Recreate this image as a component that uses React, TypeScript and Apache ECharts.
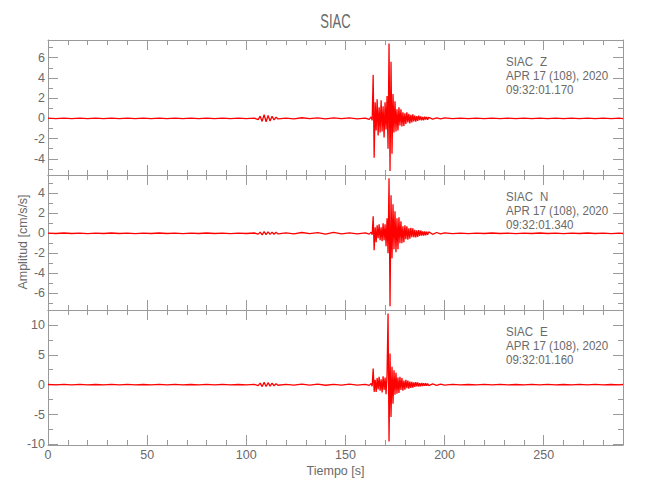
import React, { useEffect, useRef } from "react";
import * as echarts from "echarts";

// Sample times [s]
const TIME = [
  0, 4, 8, 12, 16, 20, 24, 28, 32, 36, 40, 44, 48, 52, 56, 60, 64, 68, 72, 76, 80, 84, 88, 92, 96, 100, 104,
  106, 107, 108, 109, 110, 111, 112, 113, 114, 115, 116,
  120, 124, 128, 132, 136, 140, 144, 148, 152, 156, 160,
  162, 163, 163.5,
  164, 164.5, 165, 165.5, 166, 166.5, 167, 167.5, 168, 168.5,
  169, 169.5, 170, 170.5, 171, 171.5, 172, 172.5, 173, 173.5,
  174, 174.5, 175, 175.5, 176, 176.5, 177, 177.5, 178, 178.5,
  179, 179.5, 180, 180.5, 181, 181.5, 182, 182.5, 183, 183.5,
  184, 184.5, 185, 185.5, 186, 186.5, 187, 187.5, 188, 188.5,
  189, 189.5, 190, 190.5, 191, 191.5, 192,
  194, 196, 198, 200,
  204, 208, 212, 216, 220, 224, 228, 232, 236, 240, 244, 248, 252, 256, 260, 264, 268, 272, 276, 280, 284, 288,
  290,
];

// Channel Z amplitudes [cm/s/s]
const AMP_Z = [
  0.02, -0.02, 0.03, -0.02, 0.02, -0.03, 0.02, -0.02, 0.03, -0.02, 0.02, -0.03, 0.02, -0.02, 0.03, -0.02, 0.02, -0.03, 0.02, -0.02, 0.03, -0.02, 0.02, -0.03, 0.02, -0.02, 0.03,
  -0.12, 0.22, -0.3, 0.36, -0.33, 0.28, -0.26, 0.2, -0.16, 0.12, -0.06,
  0.03, -0.04, 0.06, -0.03, 0.05, -0.06, 0.04, -0.03, 0.05, -0.04, 0.03,
  -0.1, 0.15, -0.2,
  4.3, -3.9, 1.6, -1.2, 1.9, -1.7, 1.1, -1.4, 1.8, -1.3,
  1.2, -1.9, 1.6, -1.1, 2.2, -3.0, 7.4, -5.2, 5.6, -3.5,
  2.4, -1.4, 1.7, -1.3, 0.9, -1.2, 1.1, -0.7, 0.9, -0.8,
  0.6, -0.75, 0.5, -0.55, 0.6, -0.4, 0.45, -0.5, 0.35, -0.4,
  0.4, -0.3, 0.28, -0.33, 0.22, -0.25, 0.26, -0.18, 0.2, -0.2,
  0.15, -0.18, 0.16, -0.12, 0.14, -0.13, 0.1,
  -0.07, 0.06, -0.05, 0.04,
  -0.03, 0.02, -0.03, 0.02, -0.02, 0.03, -0.02, 0.02, -0.03, 0.02, -0.02, 0.03, -0.02, 0.02, -0.03, 0.02, -0.02, 0.03, -0.02, 0.02, -0.03, 0.02,
  -0.02,
];

// Channel N amplitudes [cm/s/s]
const AMP_N = [
  0.02, -0.02, 0.03, -0.02, 0.02, -0.03, 0.02, -0.02, 0.03, -0.02, 0.02, -0.03, 0.02, -0.02, 0.03, -0.02, 0.02, -0.03, 0.02, -0.02, 0.03, -0.02, 0.02, -0.03, 0.02, -0.02, 0.03,
  -0.08, 0.12, -0.15, 0.16, -0.14, 0.15, -0.11, 0.12, -0.09, 0.1, -0.06,
  0.04, -0.06, 0.08, -0.04, 0.06, -0.08, 0.1, -0.06, 0.04, -0.06, 0.04,
  -0.08, 0.12, -0.15,
  1.7, -1.7, 0.6, -0.9, 0.8, -0.5, 0.9, -0.7, 0.6, -0.8,
  1.0, -0.7, 0.9, -1.3, 1.5, -2.0, 5.5, -7.3, 3.8, -2.5,
  2.9, -1.6, 2.2, -1.9, 1.5, -1.6, 1.6, -1.0, 1.2, -1.0,
  0.7, -0.9, 0.8, -0.6, 0.7, -0.65, 0.5, -0.55, 0.55, -0.4,
  0.5, -0.4, 0.35, -0.4, 0.3, -0.35, 0.32, -0.25, 0.28, -0.22,
  0.2, -0.22, 0.18, -0.2, 0.15, -0.16, 0.14,
  -0.1, 0.08, -0.06, 0.05,
  -0.03, 0.02, -0.03, 0.02, -0.02, 0.03, -0.02, 0.02, -0.03, 0.02, -0.02, 0.03, -0.02, 0.02, -0.03, 0.02, -0.02, 0.03, -0.02, 0.02, -0.03, 0.02,
  -0.02,
];

// Channel E amplitudes [cm/s/s]
const AMP_E = [
  0.03, -0.04, 0.04, -0.03, 0.04, -0.04, 0.03, -0.04, 0.04, -0.03, 0.04, -0.04, 0.03, -0.04, 0.04, -0.03, 0.04, -0.04, 0.03, -0.04, 0.04, -0.03, 0.04, -0.04, 0.03, -0.04, 0.04,
  -0.15, 0.25, -0.32, 0.38, -0.3, 0.33, -0.24, 0.26, -0.18, 0.16, -0.1,
  0.06, -0.08, 0.1, -0.06, 0.08, -0.1, 0.06, -0.06, 0.08, -0.06, 0.06,
  -0.12, 0.2, -0.25,
  2.7, -1.2, 0.8, -1.2, 1.1, -0.8, 1.3, -1.0, 0.9, -1.3,
  1.4, -0.9, 1.2, -1.6, 1.8, 11.9, -9.5, 5.2, -5.4, 3.0,
  -3.2, 2.4, -1.7, 2.0, -1.5, 1.2, -1.4, 1.3, -0.9, 1.1,
  -1.0, 0.7, -0.85, 0.8, -0.6, 0.7, -0.65, 0.5, -0.55, 0.45,
  -0.5, 0.4, -0.35, 0.42, -0.3, 0.36, -0.32, 0.25, -0.28, 0.3,
  -0.22, 0.25, -0.2, 0.22, -0.17, 0.2, -0.15,
  0.12, -0.1, 0.08, -0.06,
  0.04, -0.04, 0.03, -0.04, 0.04, -0.03, 0.04, -0.04, 0.03, -0.04, 0.04, -0.03, 0.04, -0.04, 0.03, -0.04, 0.04, -0.03, 0.04, -0.04, 0.03, -0.04,
  0.03,
];

const STATION = "SIAC";
const CHANNELS = ["Z", "N", "E"];
const DATE_LABEL = "APR 17 (108), 2020";
const START_TIMES = ["09:32:01.170", "09:32:01.340", "09:32:01.160"];
const Y_MIN = [-5.6, -7.67, -10.1];
const Y_MAX = [7.75, 5.83, 12.5];
const Y_SPLIT = [7, 7, 5];
const X_MIN = 0;
const X_MAX = 290;
const X_INTERVAL = 50;
const X_NAME = "Tiempo [s]";
const Y_NAME = "Amplitud [cm/s/s]";

const FONT = "'Liberation Sans', Arial, sans-serif";
const AXIS_COLOR = "#9a9a9a";
const TEXT_COLOR = "#6a6a6a";
const LINE_COLOR = "#ff0000";

const GRID_LEFT = 48;
const GRID_RIGHT = 27;
const GRID_TOPS = [40, 175, 310];
const GRID_H = 135;

export default function App() {
  const ref = useRef<HTMLDivElement>(null);

  useEffect(() => {
    if (!ref.current) return;
    const chart = echarts.init(ref.current, undefined, { renderer: "svg" });

    const series = [AMP_Z, AMP_N, AMP_E];

    const grid = GRID_TOPS.map((top) => ({
      left: GRID_LEFT,
      right: GRID_RIGHT,
      top,
      height: GRID_H,
      containLabel: false,
    }));

    const tickCommon = {
      axisLine: { show: true, onZero: false, lineStyle: { color: AXIS_COLOR, width: 1 } },
      axisTick: { show: true, inside: true, length: 10, lineStyle: { color: AXIS_COLOR } },
      splitLine: { show: false },
    };

    const xAxis: any[] = [];
    const yAxis: any[] = [];
    for (let i = 0; i < 3; i++) {
      for (const pos of ["bottom", "top"]) {
        xAxis.push({
          gridIndex: i,
          type: "value",
          min: X_MIN,
          max: X_MAX,
          interval: X_INTERVAL,
          position: pos,
          ...tickCommon,
          minorTick: { show: true, splitNumber: 5, length: 5, lineStyle: { color: AXIS_COLOR } },
          axisLabel: {
            show: i === 2 && pos === "bottom",
            color: TEXT_COLOR,
            fontFamily: FONT,
            fontSize: 12.5,
            margin: 3,
            showMaxLabel: false,
          },
        });
      }
      for (const pos of ["left", "right"]) {
        yAxis.push({
          gridIndex: i,
          type: "value",
          min: Y_MIN[i],
          max: Y_MAX[i],
          splitNumber: Y_SPLIT[i],
          position: pos,
          ...tickCommon,
          minorTick: { show: true, splitNumber: 2, length: 5, lineStyle: { color: AXIS_COLOR } },
          axisLabel: {
            show: pos === "left",
            color: TEXT_COLOR,
            fontFamily: FONT,
            fontSize: 12.5,
            margin: 3,
            showMinLabel: false,
            showMaxLabel: false,
          },
        });
      }
    }

    const centerX = GRID_LEFT + (650 - GRID_LEFT - GRID_RIGHT) / 2;
    const textStyle = (text: string, size: number, align: string) => ({
      text,
      fontFamily: FONT,
      fontSize: size,
      fill: TEXT_COLOR,
      align,
      verticalAlign: "middle",
    });
    const graphic: any[] = [
      { type: "text", x: centerX, y: 21, scaleX: 0.62, style: textStyle(STATION, 21, "center") },
      { type: "text", x: centerX, y: 471, style: textStyle(X_NAME, 12.5, "center") },
      { type: "text", x: 23, y: 242, rotation: Math.PI / 2, style: textStyle(Y_NAME, 12.5, "center") },
    ];
    GRID_TOPS.forEach((top, i) => {
      graphic.push({ type: "text", x: 506, y: top + 21.5, scaleX: 0.89, style: textStyle(STATION, 13, "left") });
      graphic.push({ type: "text", x: 540, y: top + 21.5, scaleX: 0.89, style: textStyle(CHANNELS[i], 13, "left") });
      graphic.push({ type: "text", x: 506, y: top + 35.8, scaleX: 0.89, style: textStyle(DATE_LABEL, 13, "left") });
      graphic.push({ type: "text", x: 506, y: top + 50.1, scaleX: 0.89, style: textStyle(START_TIMES[i], 13, "left") });
    });

    chart.setOption({
      animation: false,
      backgroundColor: "#ffffff",
      grid,
      xAxis,
      yAxis,
      graphic,
      series: series.map((vals, i) => ({
        type: "line",
        xAxisIndex: 2 * i,
        yAxisIndex: 2 * i,
        data: TIME.map((t, k) => [t, vals[k]]),
        showSymbol: false,
        symbol: "none",
        silent: true,
        lineStyle: { color: LINE_COLOR, width: 1.3 },
      })),
    });

    return () => chart.dispose();
  }, []);

  return (
    <div
      ref={ref}
      style={{ position: "fixed", left: 0, top: 0, width: 650, height: 500, background: "#fff" }}
    />
  );
}
